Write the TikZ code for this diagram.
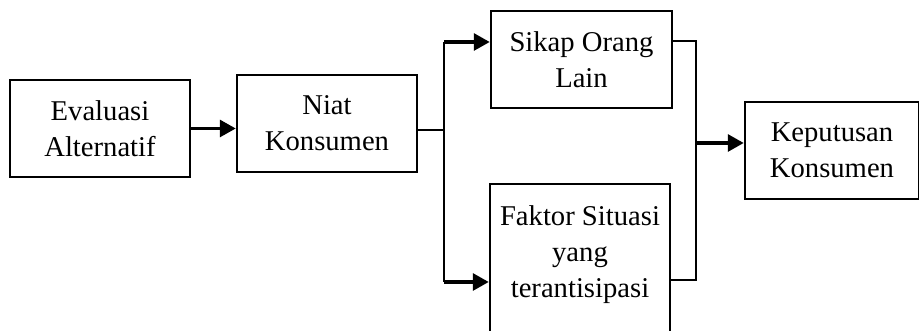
\documentclass[tikz,border=0pt]{standalone}
\usepackage{fontspec}
\setmainfont{Liberation Serif}
\usetikzlibrary{positioning, calc, arrows.meta}

\tikzset{
  box/.style={draw, line width=1.4pt, minimum width=3.6cm, minimum height=1.94cm,
    align=center, inner sep=0pt, font=\fontsize{16.3}{20.5}\selectfont},
  tip/.style={line width=1.9pt, -{Triangle[length=9pt,width=9.5pt]}},
  wire/.style={line width=1.2pt},
}

\begin{document}
\begin{tikzpicture}
\clip (0,0) rectangle (18.38,6.62);
\node[box] (eval) at (2.0,4.05) {Evaluasi\\Alternatif};
\node[box] (niat) at (6.54,4.15) {Niat\\Konsumen};
\node[box, minimum width=3.62cm] (sikap) at (11.63,5.43) {Sikap Orang\\Lain};
\node[box, anchor=north, minimum height=3.8cm] (faktor) at (11.6,2.96) {};
\node[below=0.44cm of faktor.north, align=center, inner sep=0pt,
  font=\fontsize{16.3}{20.5}\selectfont] (faktortxt) {Faktor Situasi\\yang\\terantisipasi};
\node[box, minimum width=3.48cm] (keput) at (16.64,3.61) {Keputusan\\Konsumen};

% junction points
\coordinate (split) at (8.88,4.02);
\coordinate (up) at (8.88,5.78);
\coordinate (down) at (8.88,0.98);
\coordinate (rup) at (13.92,5.80);
\coordinate (rdown) at (13.92,1.02);
\coordinate (join) at (13.92,3.76);

\draw[tip] (eval.east) -- (eval.east -| niat.west);
\draw[wire] (niat.east |- split) -- (split);
\draw[wire] (up) -- (down);
\draw[tip] (up) -- (up -| sikap.west);
\draw[tip] (down) -- (down -| faktor.west);
\draw[wire] (sikap.east |- rup) -- (rup) -- (rdown) -- (faktor.east |- rdown);
\draw[tip] (join) -- (join -| keput.west);
\end{tikzpicture}
\end{document}
